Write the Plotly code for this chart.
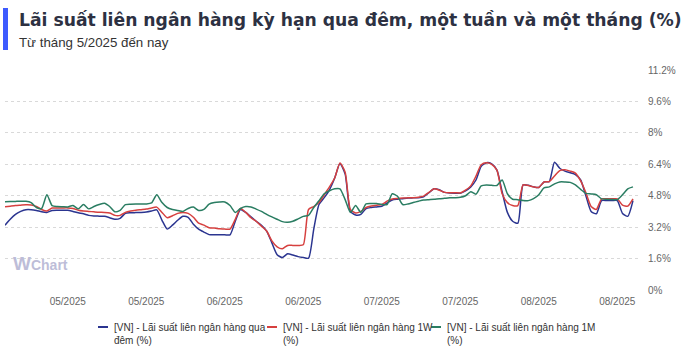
import pandas as pd
import plotly.graph_objects as go

start_date = "2025-05-01"
n_days = 121
dates = pd.date_range(start_date, periods=n_days, freq="D")

overnight = [
    3.30, 3.60, 3.85, 4.00, 4.09, 4.09, 4.05, 3.98, 3.95, 4.05,
    4.06, 4.06, 4.06, 4.00, 3.93, 3.88, 3.80, 3.77, 3.76, 3.75,
    3.68, 3.60, 3.65, 3.90, 3.93, 3.94, 3.95, 3.97, 4.02, 4.08,
    3.55, 3.10, 3.30, 3.55, 3.75, 3.70, 3.35, 3.10, 2.95, 2.82,
    2.81, 2.81, 2.81, 2.81, 3.50, 4.10, 3.95, 3.72, 3.50, 3.30,
    3.00, 2.40, 1.80, 1.65, 1.84, 1.78, 1.70, 1.65, 1.62, 3.10,
    4.35, 4.70, 5.10, 5.70, 6.44, 5.90, 4.00, 3.82, 3.85, 4.15,
    4.20, 4.23, 4.26, 4.43, 4.58, 4.62, 4.65, 4.68, 4.69, 4.70,
    4.75, 4.95, 5.15, 5.10, 4.97, 4.94, 4.93, 4.93, 5.05, 5.25,
    5.60, 6.30, 6.48, 6.42, 6.10, 5.00, 3.95, 3.50, 3.40, 5.35,
    5.33, 5.25, 5.22, 5.50, 5.52, 6.50, 6.20, 6.05, 5.97, 5.88,
    5.60, 4.80, 4.00, 3.88, 4.55, 4.55, 4.55, 4.55, 3.90, 3.75,
    4.55,
]

one_week = [
    4.24, 4.27, 4.30, 4.32, 4.34, 4.33, 4.25, 4.10, 4.02, 4.17,
    4.18, 4.18, 4.18, 4.15, 4.06, 4.02, 4.00, 3.98, 3.96, 3.95,
    3.92, 3.80, 3.80, 3.95, 4.02, 4.06, 4.09, 4.12, 4.18, 4.22,
    3.95, 3.68, 3.78, 3.90, 3.95, 3.90, 3.70, 3.40, 3.30, 3.17,
    3.15, 3.12, 3.10, 3.10, 3.60, 4.15, 3.95, 3.68, 3.50, 3.25,
    3.00, 2.50, 2.20, 2.10, 2.27, 2.27, 2.27, 2.30, 4.10, 4.25,
    4.45, 4.85, 5.25, 5.70, 6.46, 6.00, 4.10, 3.92, 4.00, 4.20,
    4.28, 4.32, 4.35, 4.52, 4.63, 4.66, 4.68, 4.69, 4.70, 4.72,
    4.78, 4.97, 5.15, 5.08, 4.97, 4.95, 4.95, 4.94, 5.08, 5.30,
    5.80, 6.38, 6.48, 6.40, 6.10, 4.90, 4.45, 4.30, 4.30, 5.35,
    5.32, 5.25, 5.22, 5.50, 5.52, 5.80, 6.08, 6.12, 6.05, 5.95,
    5.55, 4.95, 4.25, 4.10, 4.64, 4.64, 4.64, 4.64, 4.32, 4.27,
    4.64,
]

one_month = [
    4.49, 4.50, 4.51, 4.52, 4.52, 4.45, 4.20, 4.15, 4.85, 4.30,
    4.25, 4.24, 4.23, 4.30, 4.13, 4.35, 4.13, 4.25, 4.35, 4.42,
    4.25, 3.98, 4.05, 4.35, 4.37, 4.38, 4.38, 4.38, 4.43, 4.85,
    4.45, 4.20, 4.10, 4.05, 4.00, 4.15, 4.22, 4.05, 4.10, 4.37,
    4.45, 4.48, 4.48, 4.30, 3.95, 4.15, 4.25, 4.23, 4.12, 4.00,
    3.85, 3.72, 3.60, 3.48, 3.45, 3.50, 3.62, 3.75, 3.80, 4.20,
    4.55, 4.90, 5.05, 5.15, 5.15, 4.60, 3.95, 4.30, 3.95, 4.38,
    4.40, 4.40, 4.35, 4.35, 4.90, 4.77, 4.35, 4.38, 4.45, 4.52,
    4.58, 4.60, 4.62, 4.65, 4.67, 4.69, 4.70, 4.72, 4.80, 5.00,
    4.88, 5.30, 5.35, 5.33, 5.32, 5.60, 4.90, 4.62, 4.60, 4.55,
    4.55, 4.65, 4.85, 5.20, 5.25, 5.40, 5.50, 5.50, 5.48, 5.35,
    5.12, 4.92, 4.89, 4.85, 4.64, 4.62, 4.61, 4.60, 4.85, 5.15,
    5.25,
]

series_names = [
    "[VN] - Lãi suất liên ngân hàng qua<br>đêm (%)",
    "[VN] - Lãi suất liên ngân hàng 1W<br>(%)",
    "[VN] - Lãi suất liên ngân hàng 1M<br>(%)",
]
series_colors = ["#2b3590", "#d6403f", "#2a7d62"]

x_tick_vals = ["2025-05-13", "2025-05-28", "2025-06-12", "2025-06-27",
               "2025-07-12", "2025-07-27", "2025-08-11", "2025-08-26"]
x_tick_text = ["05/2025", "05/2025", "06/2025", "06/2025",
               "07/2025", "07/2025", "08/2025", "08/2025"]
y_tick_vals = [0, 1.6, 3.2, 4.8, 6.4, 8.0, 9.6, 11.2]
y_tick_text = ["0%", "1.6%", "3.2%", "4.8%", "6.4%", "8%", "9.6%", "11.2%"]

title_text = "Lãi suất liên ngân hàng kỳ hạn qua đêm, một tuần và một tháng (%)"
subtitle_text = "Từ tháng 5/2025 đến nay"

W, H = 700, 362
ML, MR, MT, MB = 5, 62, 70, 72
PW, PH = W - ML - MR, H - MT - MB


def px_x(px):
    return (px - ML) / PW


def px_y(py):
    return (H - MB - py) / PH


fig = go.Figure()
for vals, name, col in zip([overnight, one_week, one_month], series_names, series_colors):
    fig.add_trace(go.Scatter(
        x=dates, y=vals, mode="lines", name=name,
        line=dict(color=col, width=1.5, shape="spline", smoothing=0.6),
        showlegend=False,
    ))

AX_FONT = dict(family="Liberation Sans, Arial, sans-serif", size=10, color="#666666")

fig.update_layout(
    width=W, height=H,
    margin=dict(l=ML, r=MR, t=MT, b=MB),
    paper_bgcolor="white", plot_bgcolor="white",
    xaxis=dict(
        range=[dates[0], dates[-1] + pd.Timedelta(hours=23)],
        tickvals=x_tick_vals, ticktext=x_tick_text,
        showgrid=False, zeroline=False, showline=False, ticks="",
        ticklabelstandoff=4,
        tickfont=AX_FONT,
    ),
    yaxis=dict(
        side="right", range=[0, 11.2],
        tickvals=y_tick_vals, ticktext=y_tick_text,
        showgrid=True, gridcolor="#d9d9d9", griddash="dot", gridwidth=1,
        zeroline=False, showline=False, ticks="", ticklabelstandoff=9,
        tickfont=AX_FONT,
    ),
)

# left accent bar
fig.add_shape(type="rect", xref="paper", yref="paper",
              x0=px_x(3), x1=px_x(8), y0=px_y(50), y1=px_y(8),
              fillcolor="#3d5afe", line=dict(width=0))

fig.add_annotation(
    text="<b>" + title_text + "</b>", xref="paper", yref="paper",
    x=px_x(17), y=px_y(20), xanchor="left", yanchor="middle", showarrow=False,
    font=dict(family="DejaVu Sans, sans-serif", size=17.2, color="#2d3142"),
)
fig.add_annotation(
    text=subtitle_text, xref="paper", yref="paper",
    x=px_x(17), y=px_y(43), xanchor="left", yanchor="middle", showarrow=False,
    font=dict(family="Liberation Sans, Arial, sans-serif", size=13.3, color="#333333"),
)

# watermark
fig.add_annotation(
    text="<b><span style='font-size:19px'>W</span>Chart</b>", xref="paper", yref="paper",
    x=px_x(11), y=px_y(263), xanchor="left", yanchor="middle", showarrow=False,
    font=dict(family="Liberation Sans, Arial, sans-serif", size=14, color="#bdbdd8"),
)

# legend (manual)
legend_dash_x = [98, 267, 431]
legend_text_x = [112, 281, 445]
for name, col, dx, tx in zip(series_names, series_colors, legend_dash_x, legend_text_x):
    fig.add_shape(type="line", xref="paper", yref="paper",
                  x0=px_x(dx), x1=px_x(dx + 10), y0=px_y(327), y1=px_y(327),
                  line=dict(color=col, width=2))
    fig.add_annotation(
        text=name, xref="paper", yref="paper",
        x=px_x(tx), y=px_y(320), xanchor="left", yanchor="top", align="left",
        showarrow=False,
        font=dict(family="Liberation Sans, Arial, sans-serif", size=10, color="#333333"),
    )

fig.write_html("out.html", config={"displayModeBar": False},
               post_script="document.body.style.margin='0';")
